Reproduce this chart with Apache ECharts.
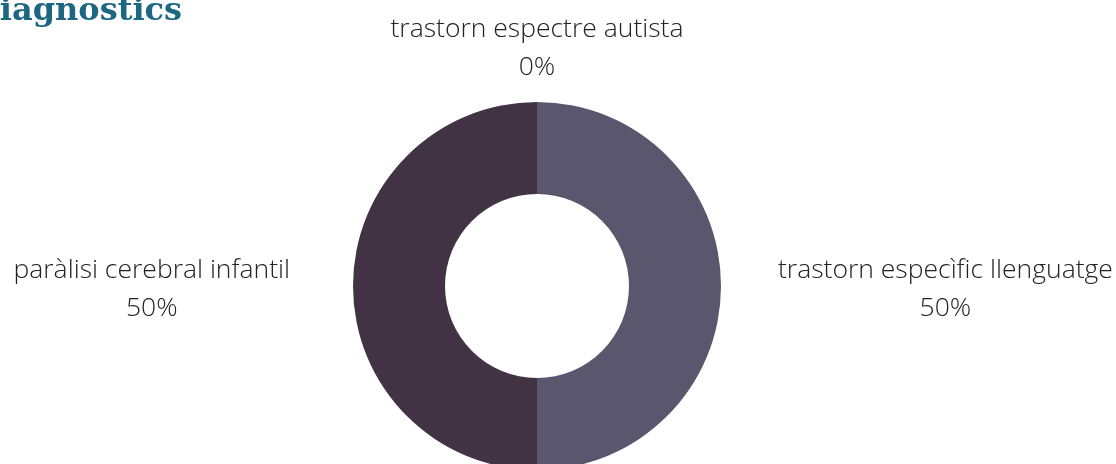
<!DOCTYPE html>
<html>
<head>
<meta charset="utf-8">
<style>
  html, body { margin: 0; padding: 0; background: #fff; }
  #chart { width: 1116px; height: 464px; }
</style>
<script src="https://cdn.jsdelivr.net/npm/echarts@6/dist/echarts.min.js"></script>
</head>
<body>
<div id="chart"></div>
<script>
// diagnostics (percent of cases)
var categories = ['trastorn espectre autista', 'trastorn especìfic llenguatge', 'paràlisi cerebral infantil'];
var values = [0, 50, 50];
var colors = ['#6b6880', '#5a566d', '#413244'];
var lineLengths = [54, 30, 36];

var chart = echarts.init(document.getElementById('chart'));

var data = [];
categories.forEach(function (name, i) {
  data.push({
    name: name,
    value: values[i],
    itemStyle: { color: colors[i] },
    labelLine: { length: lineLengths[i], length2: values[i] === 0 ? 0 : 22 }
  });
});

var txt = { fontFamily: 'Open Sans', fontWeight: 300, fontSize: 26.5, lineHeight: 38, color: '#222', align: 'center' };

var option = {
  animation: false,
  title: {
    text: 'Diagnostics',
    left: -33,
    top: -9,
    textStyle: {
      fontFamily: 'DejaVu Serif',
      fontWeight: 'bold',
      fontSize: 32,
      color: '#1d6783'
    }
  },
  series: [{
    type: 'pie',
    center: [537, 286],
    radius: [92, 184],
    startAngle: 90,
    clockwise: true,
    avoidLabelOverlap: false,
    silent: true,
    data: data,
    label: {
      show: true,
      position: 'outside',
      formatter: '{n|{b}}\n{p|{d}%}',
      rich: { n: txt, p: txt }
    },
    labelLine: { show: false },
    labelLayout: function (params) {
      // zero slice: centre its label above the ring
      if (params.dataIndex === 0) {
        return { x: params.rect.x + params.rect.width / 2, align: 'center' };
      }
      return { dy: 3 };
    }
  }]
};
chart.setOption(option);
window.addEventListener('resize', function () {
  chart.resize();
});
</script>
</body>
</html>
